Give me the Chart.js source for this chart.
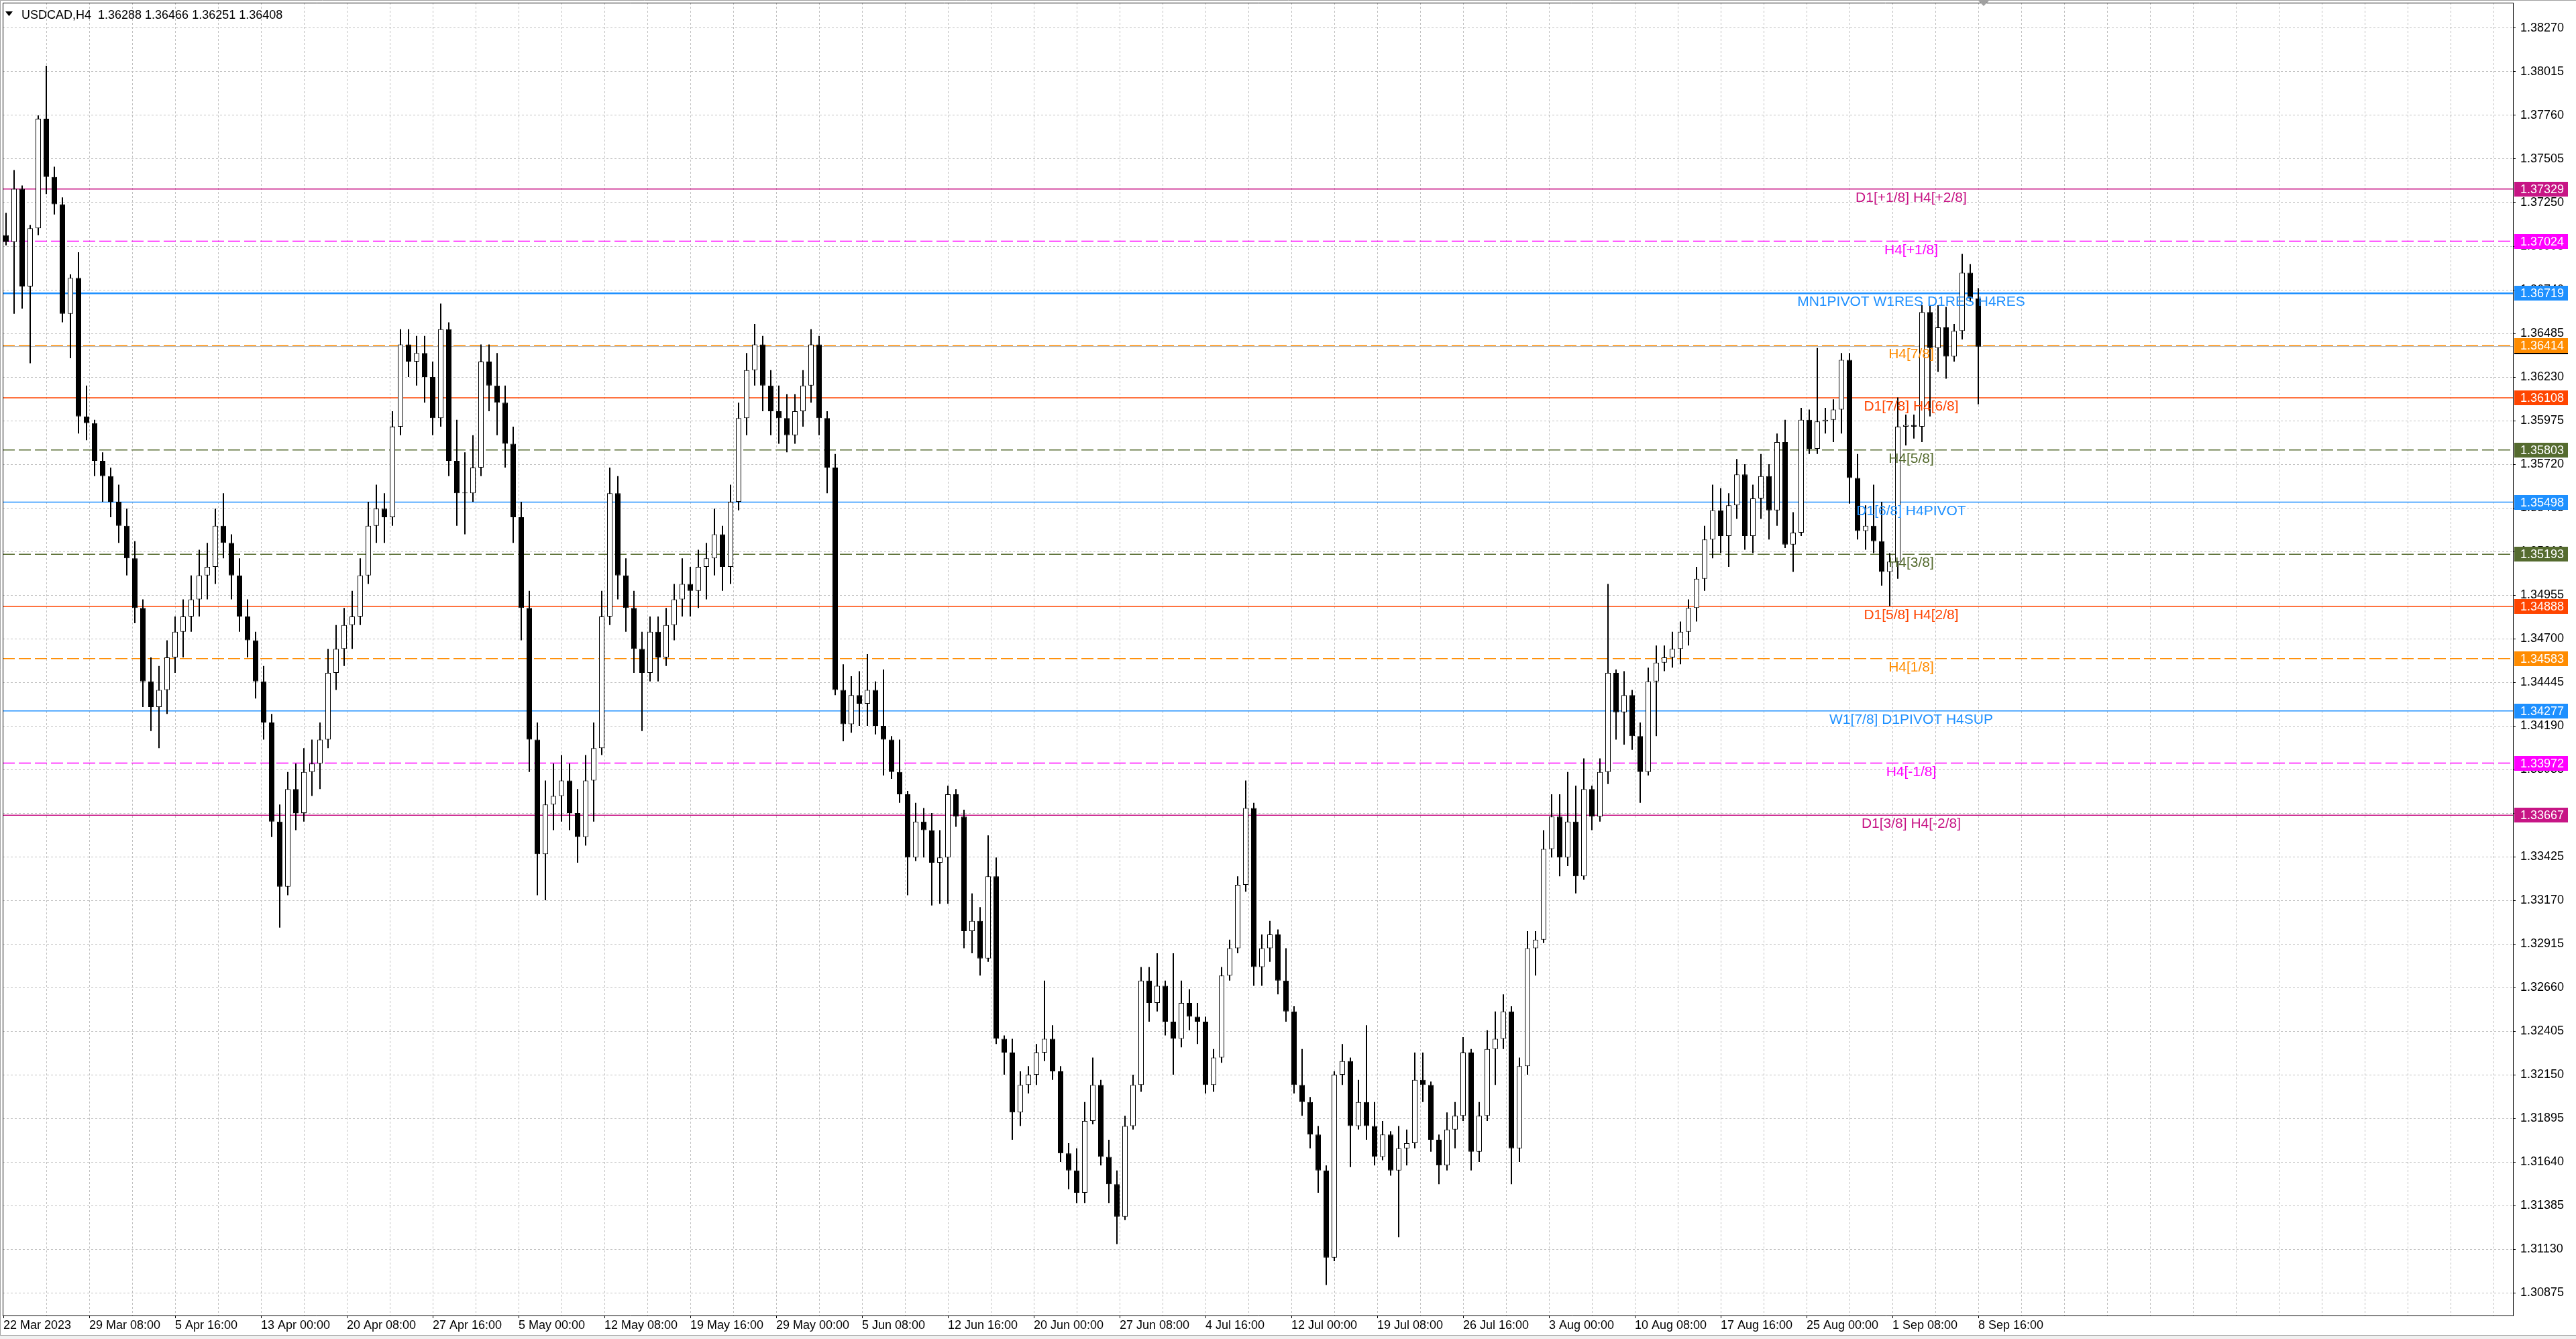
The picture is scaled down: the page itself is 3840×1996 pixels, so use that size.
<!DOCTYPE html>
<html>
<head>
<meta charset="utf-8">
<title>USDCAD,H4</title>
<script src="https://cdn.jsdelivr.net/npm/chart.js@4.4.0/dist/chart.umd.min.js"></script>
<style>
  html, body { margin: 0; padding: 0; background: #ffffff; }
  #wrap { position: relative; width: 3840px; height: 1996px; }
</style>
</head>
<body>
<div id="wrap"><canvas id="chart"></canvas></div>
<script>
// USDCAD H4 with Murrey math / pivot levels

// Header (last bar OHLC)
const symbol = 'USDCAD,H4';
const lastBar = [1.36288, 1.36466, 1.36251, 1.36408];

// Candles, one per 3 H4 bars
const opens = [
  1.3706,1.3702,1.3733,1.3676,1.3710,1.3774,1.3740,1.3724,1.3660,1.3681,
  1.3600,1.3596,1.3574,1.3565,1.3550,1.3536,1.3517,1.3488,1.3445,1.3430,
  1.3440,1.3459,1.3474,1.3483,1.3493,1.3507,1.3512,1.3536,1.3526,1.3507,
  1.3483,1.3469,1.3445,1.3421,1.3363,1.3325,1.3382,1.3368,1.3392,1.3397,
  1.3411,1.3450,1.3464,1.3478,1.3483,1.3507,1.3536,1.3546,1.3541,1.3594,
  1.3642,1.3632,1.3637,1.3623,1.3599,1.3651,1.3574,1.3555,1.3555,1.3570,
  1.3632,1.3618,1.3608,1.3584,1.3541,1.3488,1.3411,1.3344,1.3373,1.3378,
  1.3387,1.3368,1.3354,1.3387,1.3406,1.3483,1.3555,1.3507,1.3488,1.3464,
  1.3450,1.3474,1.3459,1.3478,1.3493,1.3502,1.3498,1.3512,1.3517,1.3531,
  1.3512,1.3550,1.3599,1.3627,1.3642,1.3618,1.3603,1.3599,1.3589,1.3603,
  1.3618,1.3642,1.3599,1.3570,1.3440,1.3420,1.3437,1.3432,1.3440,1.3419,
  1.3411,1.3392,1.3379,1.3342,1.3363,1.3358,1.3339,1.3342,1.3379,1.3366,
  1.3299,1.3305,1.3283,1.3331,1.3236,1.3228,1.3193,1.3209,1.3215,1.3228,
  1.3236,1.3217,1.3169,1.3159,1.3146,1.3188,1.3209,1.3167,1.3151,1.3132,
  1.3185,1.3209,1.3270,1.3257,1.3267,1.3246,1.3236,1.3257,1.3249,1.3246,
  1.3209,1.3225,1.3273,1.3289,1.3326,1.3371,1.3278,1.3289,1.3297,1.3270,
  1.3252,1.3209,1.3199,1.3180,1.3159,1.3108,1.3215,1.3223,1.3185,1.3199,
  1.3185,1.3167,1.3180,1.3159,1.3172,1.3175,1.3212,1.3209,1.3177,1.3162,
  1.3183,1.3191,1.3228,1.3170,1.3191,1.3230,1.3236,1.3252,1.3172,1.3220,
  1.3289,1.3294,1.3347,1.3366,1.3342,1.3363,1.3331,1.3382,1.3366,1.3392,
  1.3450,1.3427,1.3437,1.3413,1.3392,1.3445,1.3456,1.3459,1.3464,1.3474,
  1.3488,1.3505,1.3528,1.3545,1.3530,1.3548,1.3566,1.3530,1.3552,1.3565,
  1.3545,1.3585,1.3525,1.3532,1.3598,1.3581,1.3597,1.3598,1.3604,1.3633,
  1.3564,1.3533,1.3536,1.3527,1.3509,1.3515,1.3594,1.3595,1.3594,1.3661,
  1.3640,1.3652,1.3635,1.3650,1.3684,1.3669
];
const highs = [
  1.3719,1.3744,1.3735,1.3712,1.3776,1.3805,1.3746,1.3728,1.3683,1.3696,
  1.3618,1.3598,1.3579,1.3570,1.3560,1.3546,1.3527,1.3493,1.3459,1.3454,
  1.3469,1.3483,1.3493,1.3507,1.3522,1.3526,1.3546,1.3555,1.3531,1.3517,
  1.3493,1.3474,1.3454,1.3426,1.3373,1.3392,1.3397,1.3406,1.3411,1.3421,
  1.3464,1.3478,1.3488,1.3498,1.3517,1.3550,1.3560,1.3555,1.3603,1.3651,
  1.3651,1.3647,1.3647,1.3632,1.3666,1.3655,1.3598,1.3579,1.3589,1.3642,
  1.3642,1.3637,1.3618,1.3594,1.3550,1.3498,1.3421,1.3387,1.3397,1.3402,
  1.3397,1.3382,1.3402,1.3421,1.3498,1.3570,1.3565,1.3517,1.3498,1.3474,
  1.3483,1.3483,1.3488,1.3502,1.3517,1.3512,1.3522,1.3526,1.3546,1.3536,
  1.3560,1.3608,1.3637,1.3654,1.3647,1.3627,1.3618,1.3613,1.3613,1.3627,
  1.3651,1.3647,1.3603,1.3578,1.3455,1.3448,1.3451,1.3461,1.3445,1.3452,
  1.3413,1.3411,1.3381,1.3374,1.3371,1.3368,1.3358,1.3384,1.3382,1.3370,
  1.3321,1.3313,1.3355,1.3342,1.3238,1.3236,1.3217,1.3220,1.3233,1.3270,
  1.3244,1.3220,1.3175,1.3172,1.3199,1.3225,1.3212,1.3177,1.3159,1.3191,
  1.3215,1.3278,1.3278,1.3286,1.3270,1.3286,1.3270,1.3265,1.3257,1.3249,
  1.3230,1.3278,1.3294,1.3331,1.3387,1.3374,1.3297,1.3305,1.3300,1.3289,
  1.3255,1.3230,1.3202,1.3185,1.3162,1.3217,1.3233,1.3225,1.3212,1.3244,
  1.3199,1.3188,1.3182,1.3185,1.3183,1.3228,1.3228,1.3211,1.3180,1.3193,
  1.3199,1.3237,1.3230,1.3199,1.3241,1.3252,1.3262,1.3255,1.3225,1.3299,
  1.3299,1.3358,1.3379,1.3379,1.3392,1.3384,1.3400,1.3384,1.3400,1.3502,
  1.3452,1.3451,1.3440,1.3421,1.3453,1.3466,1.3466,1.3474,1.3480,1.3493,
  1.3512,1.3536,1.3560,1.3558,1.3555,1.3575,1.3572,1.3560,1.3578,1.3572,
  1.3590,1.3598,1.3544,1.3605,1.3604,1.3640,1.3605,1.3610,1.3637,1.3637,
  1.3578,1.3548,1.3560,1.3550,1.3520,1.3611,1.3601,1.3601,1.3665,1.3665,
  1.3665,1.3664,1.3654,1.3695,1.3689,1.3675
];
const lows = [
  1.3700,1.3660,1.3663,1.3631,1.3706,1.3730,1.3718,1.3655,1.3634,1.3590,
  1.3586,1.3565,1.3550,1.3541,1.3526,1.3507,1.3479,1.3430,1.3416,1.3406,
  1.3426,1.3450,1.3459,1.3474,1.3483,1.3493,1.3502,1.3517,1.3493,1.3474,
  1.3459,1.3435,1.3411,1.3354,1.3301,1.3320,1.3358,1.3363,1.3378,1.3382,
  1.3406,1.3440,1.3454,1.3464,1.3478,1.3502,1.3526,1.3526,1.3536,1.3589,
  1.3623,1.3618,1.3608,1.3589,1.3594,1.3565,1.3536,1.3531,1.3550,1.3565,
  1.3603,1.3589,1.3570,1.3526,1.3469,1.3392,1.3320,1.3317,1.3358,1.3363,
  1.3358,1.3339,1.3349,1.3363,1.3402,1.3478,1.3493,1.3474,1.3450,1.3416,
  1.3445,1.3445,1.3454,1.3469,1.3483,1.3483,1.3488,1.3493,1.3507,1.3498,
  1.3502,1.3545,1.3589,1.3618,1.3603,1.3589,1.3584,1.3579,1.3584,1.3594,
  1.3608,1.3589,1.3555,1.3437,1.3410,1.3415,1.3419,1.3419,1.3414,1.3390,
  1.3388,1.3374,1.3320,1.3340,1.3342,1.3314,1.3315,1.3315,1.3360,1.3289,
  1.3286,1.3273,1.3281,1.3233,1.3215,1.3177,1.3185,1.3204,1.3209,1.3223,
  1.3212,1.3164,1.3148,1.3140,1.3140,1.3186,1.3162,1.3140,1.3116,1.3130,
  1.3183,1.3205,1.3246,1.3252,1.3238,1.3215,1.3231,1.3241,1.3233,1.3204,
  1.3205,1.3222,1.3270,1.3286,1.3322,1.3267,1.3267,1.3281,1.3262,1.3246,
  1.3204,1.3191,1.3172,1.3146,1.3092,1.3106,1.3209,1.3161,1.3183,1.3177,
  1.3162,1.3165,1.3156,1.3120,1.3162,1.3172,1.3199,1.3170,1.3151,1.3159,
  1.3172,1.3188,1.3159,1.3164,1.3188,1.3209,1.3230,1.3151,1.3164,1.3215,
  1.3273,1.3292,1.3342,1.3331,1.3337,1.3321,1.3329,1.3358,1.3363,1.3385,
  1.3411,1.3408,1.3405,1.3374,1.3390,1.3413,1.3451,1.3453,1.3455,1.3466,
  1.3480,1.3498,1.3517,1.3520,1.3512,1.3540,1.3522,1.3520,1.3540,1.3528,
  1.3536,1.3523,1.3509,1.3530,1.3578,1.3578,1.3590,1.3585,1.3590,1.3549,
  1.3528,1.3522,1.3520,1.3501,1.3489,1.3505,1.3583,1.3587,1.3585,1.3600,
  1.3626,1.3622,1.3632,1.3645,1.3667,1.3607
];
const closes = [
  1.3702,1.3733,1.3676,1.3710,1.3774,1.3740,1.3724,1.3660,1.3681,1.3600,
  1.3596,1.3574,1.3565,1.3550,1.3536,1.3517,1.3488,1.3445,1.3430,1.3440,
  1.3459,1.3474,1.3483,1.3493,1.3507,1.3512,1.3536,1.3526,1.3507,1.3483,
  1.3469,1.3445,1.3421,1.3363,1.3325,1.3382,1.3368,1.3392,1.3397,1.3411,
  1.3450,1.3464,1.3478,1.3483,1.3507,1.3536,1.3546,1.3541,1.3594,1.3642,
  1.3632,1.3637,1.3623,1.3599,1.3651,1.3574,1.3555,1.3555,1.3570,1.3632,
  1.3618,1.3608,1.3584,1.3541,1.3488,1.3411,1.3344,1.3373,1.3378,1.3387,
  1.3368,1.3354,1.3387,1.3406,1.3483,1.3555,1.3507,1.3488,1.3464,1.3450,
  1.3474,1.3459,1.3478,1.3493,1.3502,1.3498,1.3512,1.3517,1.3531,1.3512,
  1.3550,1.3599,1.3627,1.3642,1.3618,1.3603,1.3599,1.3589,1.3603,1.3618,
  1.3642,1.3599,1.3570,1.3440,1.3420,1.3437,1.3432,1.3440,1.3419,1.3411,
  1.3392,1.3379,1.3342,1.3363,1.3358,1.3339,1.3342,1.3379,1.3366,1.3299,
  1.3305,1.3283,1.3331,1.3236,1.3228,1.3193,1.3209,1.3215,1.3228,1.3236,
  1.3217,1.3169,1.3159,1.3146,1.3188,1.3209,1.3167,1.3151,1.3132,1.3185,
  1.3209,1.3270,1.3257,1.3267,1.3246,1.3236,1.3257,1.3249,1.3246,1.3209,
  1.3225,1.3273,1.3289,1.3326,1.3371,1.3278,1.3289,1.3297,1.3270,1.3252,
  1.3209,1.3199,1.3180,1.3159,1.3108,1.3215,1.3223,1.3185,1.3199,1.3185,
  1.3167,1.3180,1.3159,1.3172,1.3175,1.3212,1.3209,1.3177,1.3162,1.3183,
  1.3191,1.3228,1.3170,1.3191,1.3230,1.3236,1.3252,1.3172,1.3220,1.3289,
  1.3294,1.3347,1.3366,1.3342,1.3363,1.3331,1.3382,1.3366,1.3392,1.3450,
  1.3427,1.3437,1.3413,1.3392,1.3445,1.3456,1.3459,1.3464,1.3474,1.3488,
  1.3505,1.3528,1.3545,1.3530,1.3548,1.3566,1.3530,1.3552,1.3565,1.3545,
  1.3585,1.3525,1.3532,1.3598,1.3581,1.3597,1.3598,1.3604,1.3633,1.3564,
  1.3533,1.3536,1.3527,1.3509,1.3515,1.3594,1.3595,1.3594,1.3661,1.3640,
  1.3652,1.3635,1.3650,1.3684,1.3669,1.36408
];

// Time axis labels, one every 32 H4 bars
const timeLabels = [
  '22 Mar 2023', '29 Mar 08:00', '5 Apr 16:00', '13 Apr 00:00', '20 Apr 08:00',
  '27 Apr 16:00', '5 May 00:00', '12 May 08:00', '19 May 16:00', '29 May 00:00',
  '5 Jun 08:00', '12 Jun 16:00', '20 Jun 00:00', '27 Jun 08:00', '4 Jul 16:00',
  '12 Jul 00:00', '19 Jul 08:00', '26 Jul 16:00', '3 Aug 00:00', '10 Aug 08:00',
  '17 Aug 16:00', '25 Aug 00:00', '1 Sep 08:00', '8 Sep 16:00'
];

// Price axis ticks
const priceTicks = [
  1.30875, 1.31130, 1.31385, 1.31640, 1.31895, 1.32150, 1.32405, 1.32660,
  1.32915, 1.33170, 1.33425, 1.33680, 1.33935, 1.34190, 1.34445, 1.34700,
  1.34955, 1.35210, 1.35465, 1.35720, 1.35975, 1.36230, 1.36485, 1.36740,
  1.36995, 1.37250, 1.37505, 1.37760, 1.38015, 1.38270
];

// Level lines
const levelValues = [
  1.37329, 1.37024, 1.36719, 1.36414, 1.36108, 1.35803, 1.35498,
  1.35193, 1.34888, 1.34583, 1.34277, 1.33972, 1.33667
];
const levelNames = [
  'D1[+1/8] H4[+2/8]', 'H4[+1/8]', 'MN1PIVOT W1RES D1RES H4RES', 'H4[7/8]',
  'D1[7/8] H4[6/8]', 'H4[5/8]', 'D1[6/8] H4PIVOT', 'H4[3/8]',
  'D1[5/8] H4[2/8]', 'H4[1/8]', 'W1[7/8] D1PIVOT H4SUP', 'H4[-1/8]',
  'D1[3/8] H4[-2/8]'
];
const bidPrice = 1.36408;

(function() {
  'use strict';

  // Layout constants
  const BARS_PER_CANDLE = 3;
  const BARS_PER_LABEL = 32;
  const BARS_PER_GRID = 16;
  const LAST_LABEL_BAR = (timeLabels.length - 1) * BARS_PER_LABEL;
  const X_MIN = -0.25;
  const X_MAX = 935.25;
  const Y_MIN = 1.30742;
  const Y_MAX = 1.38419;
  const LABEL_BAR = 711;
  const SHIFT_BAR = 738;
  const FONT = '"Liberation Sans", Arial, sans-serif';
  const DASH = [18, 6];

  const LEVEL_STYLES = [
    { color: '#C71585', dash: [], width: 1.5 },
    { color: '#FF00FF', dash: DASH, width: 1.5 },
    { color: '#1E90FF', dash: [], width: 2.5 },
    { color: '#FF8C00', dash: DASH, width: 1.5 },
    { color: '#FF4500', dash: [], width: 1.5 },
    { color: '#556B2F', dash: DASH, width: 1.5 },
    { color: '#1E90FF', dash: [], width: 1.5 },
    { color: '#556B2F', dash: DASH, width: 1.5 },
    { color: '#FF4500', dash: [], width: 1.5 },
    { color: '#FF8C00', dash: DASH, width: 1.5 },
    { color: '#1E90FF', dash: [], width: 1.5 },
    { color: '#FF00FF', dash: DASH, width: 1.5 },
    { color: '#C71585', dash: [], width: 1.5 }
  ];

  // Center bar index of each candle
  function candleX(i) {
    return i * BARS_PER_CANDLE + 1;
  }

  function hLine(value) {
    return [{ x: X_MIN, y: value }, { x: X_MAX, y: value }];
  }

  // Build datasets: level lines, wicks, bodies
  function buildDatasets() {
    const datasets = [];

    levelValues.forEach((v, i) => {
      datasets.push({
        type: 'line',
        data: hLine(v),
        borderColor: LEVEL_STYLES[i].color,
        borderWidth: LEVEL_STYLES[i].width,
        borderDash: LEVEL_STYLES[i].dash,
        pointRadius: 0,
        order: 10
      });
    });

    // Bid line
    datasets.push({
      type: 'line',
      data: hLine(bidPrice),
      borderColor: '#b4b4b4',
      borderWidth: 1,
      pointRadius: 0,
      order: 9
    });

    datasets.push({
      type: 'bar',
      data: closes.map((c, i) => ({ x: candleX(i), y: [lows[i], highs[i]] })),
      backgroundColor: '#000000',
      barThickness: 2,
      grouped: false,
      inflateAmount: 0,
      order: 5
    });

    datasets.push({
      type: 'bar',
      data: closes.map((c, i) => ({ x: candleX(i), y: [opens[i], c] })),
      backgroundColor: closes.map((c, i) => (c >= opens[i] ? '#ffffff' : '#000000')),
      borderColor: '#000000',
      borderWidth: 1,
      borderSkipped: false,
      barThickness: 8,
      minBarLength: 1,
      grouped: false,
      inflateAmount: 0,
      order: 1
    });

    return datasets;
  }

  // Frame and window edges
  function drawFrame(chart) {
    const ctx = chart.ctx;
    const area = chart.chartArea;
    ctx.save();
    ctx.lineWidth = 1;
    ctx.strokeStyle = '#a0a0a0';
    ctx.beginPath();
    ctx.moveTo(0.5, chart.height);
    ctx.lineTo(0.5, 0.5);
    ctx.lineTo(chart.width, 0.5);
    ctx.stroke();

    ctx.strokeStyle = '#000000';
    ctx.beginPath();
    ctx.moveTo(area.left + 0.5, area.bottom);
    ctx.lineTo(area.left + 0.5, area.top + 0.5);
    ctx.lineTo(area.right, area.top + 0.5);
    ctx.stroke();

    ctx.fillStyle = '#f0f0f0';
    ctx.fillRect(0, 1990, chart.width, chart.height - 1990);
    ctx.strokeStyle = '#a0a0a0';
    ctx.beginPath();
    ctx.moveTo(0, 1990.5);
    ctx.lineTo(chart.width, 1990.5);
    ctx.stroke();

    // Chart shift marker
    const sx = chart.scales.x.getPixelForValue(SHIFT_BAR);
    ctx.fillStyle = '#a0a0a0';
    ctx.beginPath();
    ctx.moveTo(sx - 8, 1);
    ctx.lineTo(sx + 8, 1);
    ctx.lineTo(sx, 9);
    ctx.closePath();
    ctx.fill();
    ctx.restore();
  }

  // Coloured price boxes on the right axis
  function drawPriceBoxes(chart) {
    const ctx = chart.ctx;
    const yScale = chart.scales.y;
    ctx.save();
    ctx.font = '18px ' + FONT;
    ctx.textAlign = 'left';
    ctx.textBaseline = 'middle';

    const boxes = [{ value: bidPrice, color: '#000000' }].concat(
      levelValues.map((v, i) => ({ value: v, color: LEVEL_STYLES[i].color }))
    );
    boxes.forEach(b => {
      const py = Math.round(yScale.getPixelForValue(b.value));
      ctx.fillStyle = b.color;
      ctx.fillRect(yScale.left + 2, py - 11, 80, 22);
      ctx.fillStyle = '#ffffff';
      ctx.fillText(b.value.toFixed(5), yScale.left + 11, py + 1);
    });
    ctx.restore();
  }

  // Symbol and last bar values
  function drawHeader(chart) {
    const ctx = chart.ctx;
    ctx.save();
    ctx.fillStyle = '#000000';
    ctx.beginPath();
    ctx.moveTo(8, 17);
    ctx.lineTo(19, 17);
    ctx.lineTo(13.5, 24);
    ctx.closePath();
    ctx.fill();
    ctx.font = '18px ' + FONT;
    ctx.textBaseline = 'alphabetic';
    ctx.fillText(symbol, 32, 28);
    ctx.fillText(lastBar.map(v => v.toFixed(5)).join(' '), 146, 28);
    ctx.restore();
  }

  const overlayPlugin = {
    id: 'mtOverlay',
    beforeDraw(chart) {
      const ctx = chart.ctx;
      ctx.save();
      ctx.fillStyle = '#ffffff';
      ctx.fillRect(0, 0, chart.width, chart.height);
      ctx.restore();
    },
    afterDatasetsDraw(chart) {
      // Level names under each line
      const ctx = chart.ctx;
      const cx = chart.scales.x.getPixelForValue(LABEL_BAR);
      ctx.save();
      ctx.font = '21px ' + FONT;
      ctx.textAlign = 'center';
      ctx.textBaseline = 'top';
      levelValues.forEach((v, i) => {
        ctx.fillStyle = LEVEL_STYLES[i].color;
        ctx.fillText(levelNames[i], cx, Math.round(chart.scales.y.getPixelForValue(v)) + 3);
      });
      ctx.restore();
    },
    afterDraw(chart) {
      drawFrame(chart);
      drawPriceBoxes(chart);
      drawHeader(chart);
    }
  };

  function init() {
    const ctx = document.getElementById('chart');

    new Chart(ctx, {
      type: 'bar',
      data: { datasets: buildDatasets() },
      options: {
        responsive: true,
        maintainAspectRatio: false,
        devicePixelRatio: 1,
        animation: false,
        events: [],
        layout: { padding: { top: 4, left: 4, right: 0, bottom: 0 } },
        plugins: {
          legend: { display: false },
          tooltip: { enabled: false }
        },
        scales: {
          x: {
            type: 'linear',
            min: X_MIN,
            max: X_MAX,
            offset: false,
            afterBuildTicks: function(scale) {
              const ticks = [];
              for (let v = 0; v <= X_MAX; v += BARS_PER_GRID) {
                ticks.push({ value: v });
              }
              scale.ticks = ticks;
            },
            afterFit: function(scale) {
              scale.height = 35;
              scale.paddingLeft = 0;
              scale.paddingRight = 0;
            },
            grid: {
              offset: false,
              color: function(c) {
                return c.tick && c.tick.value === 0 ? 'rgba(0,0,0,0)' : '#c0c0c0';
              },
              lineWidth: 1,
              tickLength: 4,
              tickColor: function(c) {
                const v = c.tick ? c.tick.value : -1;
                return v % BARS_PER_LABEL === 0 && v <= LAST_LABEL_BAR ? '#000000' : 'rgba(0,0,0,0)';
              }
            },
            border: { display: true, color: '#000000', width: 1, dash: [3, 3] },
            ticks: {
              autoSkip: false,
              maxRotation: 0,
              minRotation: 0,
              align: 'start',
              padding: 0,
              color: '#000000',
              font: { family: FONT, size: 18 },
              callback: function(value) {
                if (value % BARS_PER_LABEL !== 0) return '';
                return timeLabels[value / BARS_PER_LABEL] || '';
              }
            }
          },
          y: {
            type: 'linear',
            position: 'right',
            min: Y_MIN,
            max: Y_MAX,
            beginAtZero: false,
            afterBuildTicks: function(scale) {
              scale.ticks = priceTicks.map(v => ({ value: v }));
            },
            afterFit: function(scale) {
              scale.width = 94;
              scale.paddingTop = 0;
              scale.paddingBottom = 0;
            },
            grid: {
              color: '#c0c0c0',
              lineWidth: 1,
              tickLength: 4,
              tickColor: '#000000'
            },
            border: { display: true, color: '#000000', width: 1, dash: [3, 3] },
            ticks: {
              autoSkip: false,
              padding: 7,
              color: '#000000',
              font: { family: FONT, size: 18 },
              callback: function(value) {
                return Number(value).toFixed(5);
              }
            }
          }
        }
      },
      plugins: [overlayPlugin]
    });
  }

  if (document.readyState === 'loading') {
    document.addEventListener('DOMContentLoaded', init);
  } else {
    init();
  }
})();
</script>
</body>
</html>
